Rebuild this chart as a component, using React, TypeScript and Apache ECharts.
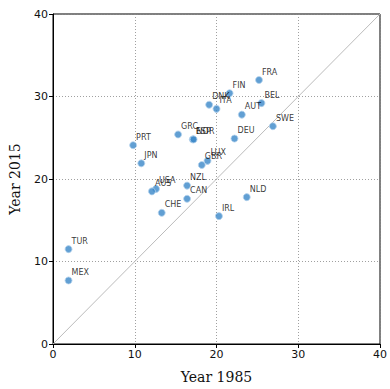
import React, { useEffect, useRef } from "react";
import * as echarts from "echarts";

const countries = ["FRA","FIN","DNK","ITA","BEL","AUT","SWE","DEU","GRC","ESP","NOR","PRT","JPN","LUX","GBR","NZL","CAN","USA","AUS","CHE","IRL","NLD","TUR","MEX"];
const year1985 = [25.2,21.6,19.1,20.0,25.5,23.1,26.9,22.2,15.3,17.1,17.2,9.8,10.8,18.9,18.2,16.4,16.4,12.6,12.1,13.3,20.3,23.7,1.9,1.9];
const year2015 = [32.0,30.4,29.0,28.5,29.2,27.8,26.4,24.9,25.4,24.8,24.8,24.1,21.9,22.2,21.7,19.2,17.6,18.8,18.5,15.9,15.5,17.8,11.5,7.7];
const identity = [[0, 0], [40, 40]];
const ticks = [0, 10, 20, 30, 40];

export default function App() {
  const ref = useRef<HTMLDivElement>(null);
  useEffect(() => {
    const chart = echarts.init(ref.current!, null, { renderer: "svg" });
    const axisCommon = {
      type: "value",
      min: ticks[0],
      max: ticks[ticks.length - 1],
      interval: 10,
      axisLine: { show: true, lineStyle: { color: "#000", width: 1 } },
      axisTick: { show: true, inside: false, length: 4, lineStyle: { color: "#000" } },
      axisLabel: { color: "#111", fontSize: 11, fontFamily: "DejaVu Sans", margin: 5, showMinLabel: true, showMaxLabel: true },
      splitLine: { show: true, lineStyle: { color: "#888", type: [1, 2], width: 0.8 } },
      nameLocation: "middle",
      nameTextStyle: { fontFamily: "DejaVu Serif", fontSize: 14, color: "#111" },
    };
    chart.setOption({
      animation: false,
      backgroundColor: "#fff",
      grid: { left: 53, right: 8, top: 14, bottom: 41, show: true, borderColor: "#000", borderWidth: 1, backgroundColor: "transparent" },
      xAxis: { ...axisCommon, name: "Year 1985", nameGap: 26 },
      yAxis: { ...axisCommon, name: "Year 2015", nameGap: 31 },
      series: [
        {
          type: "line",
          data: identity,
          symbol: "none",
          lineStyle: { color: "#bbb", width: 1 },
          silent: true,
          z: 1,
        },
        {
          type: "scatter",
          data: countries.map((c, i) => ({ name: c, value: [year1985[i], year2015[i]] })),
          symbolSize: 7,
          itemStyle: { color: "#3a87c8", borderColor: "#b5d3ee", borderWidth: 1 },
          label: {
            show: true,
            formatter: (p: any) => p.name,
            position: "right",
            distance: 0,
            offset: [-1, -8],
            fontSize: 8,
            fontFamily: "DejaVu Sans",
            color: "#000",
          },
          z: 3,
        },
      ],
    });
    return () => chart.dispose();
  }, []);
  return <div ref={ref} style={{ position: "fixed", left: 0, top: 0, width: 390, height: 389 }} />;
}
